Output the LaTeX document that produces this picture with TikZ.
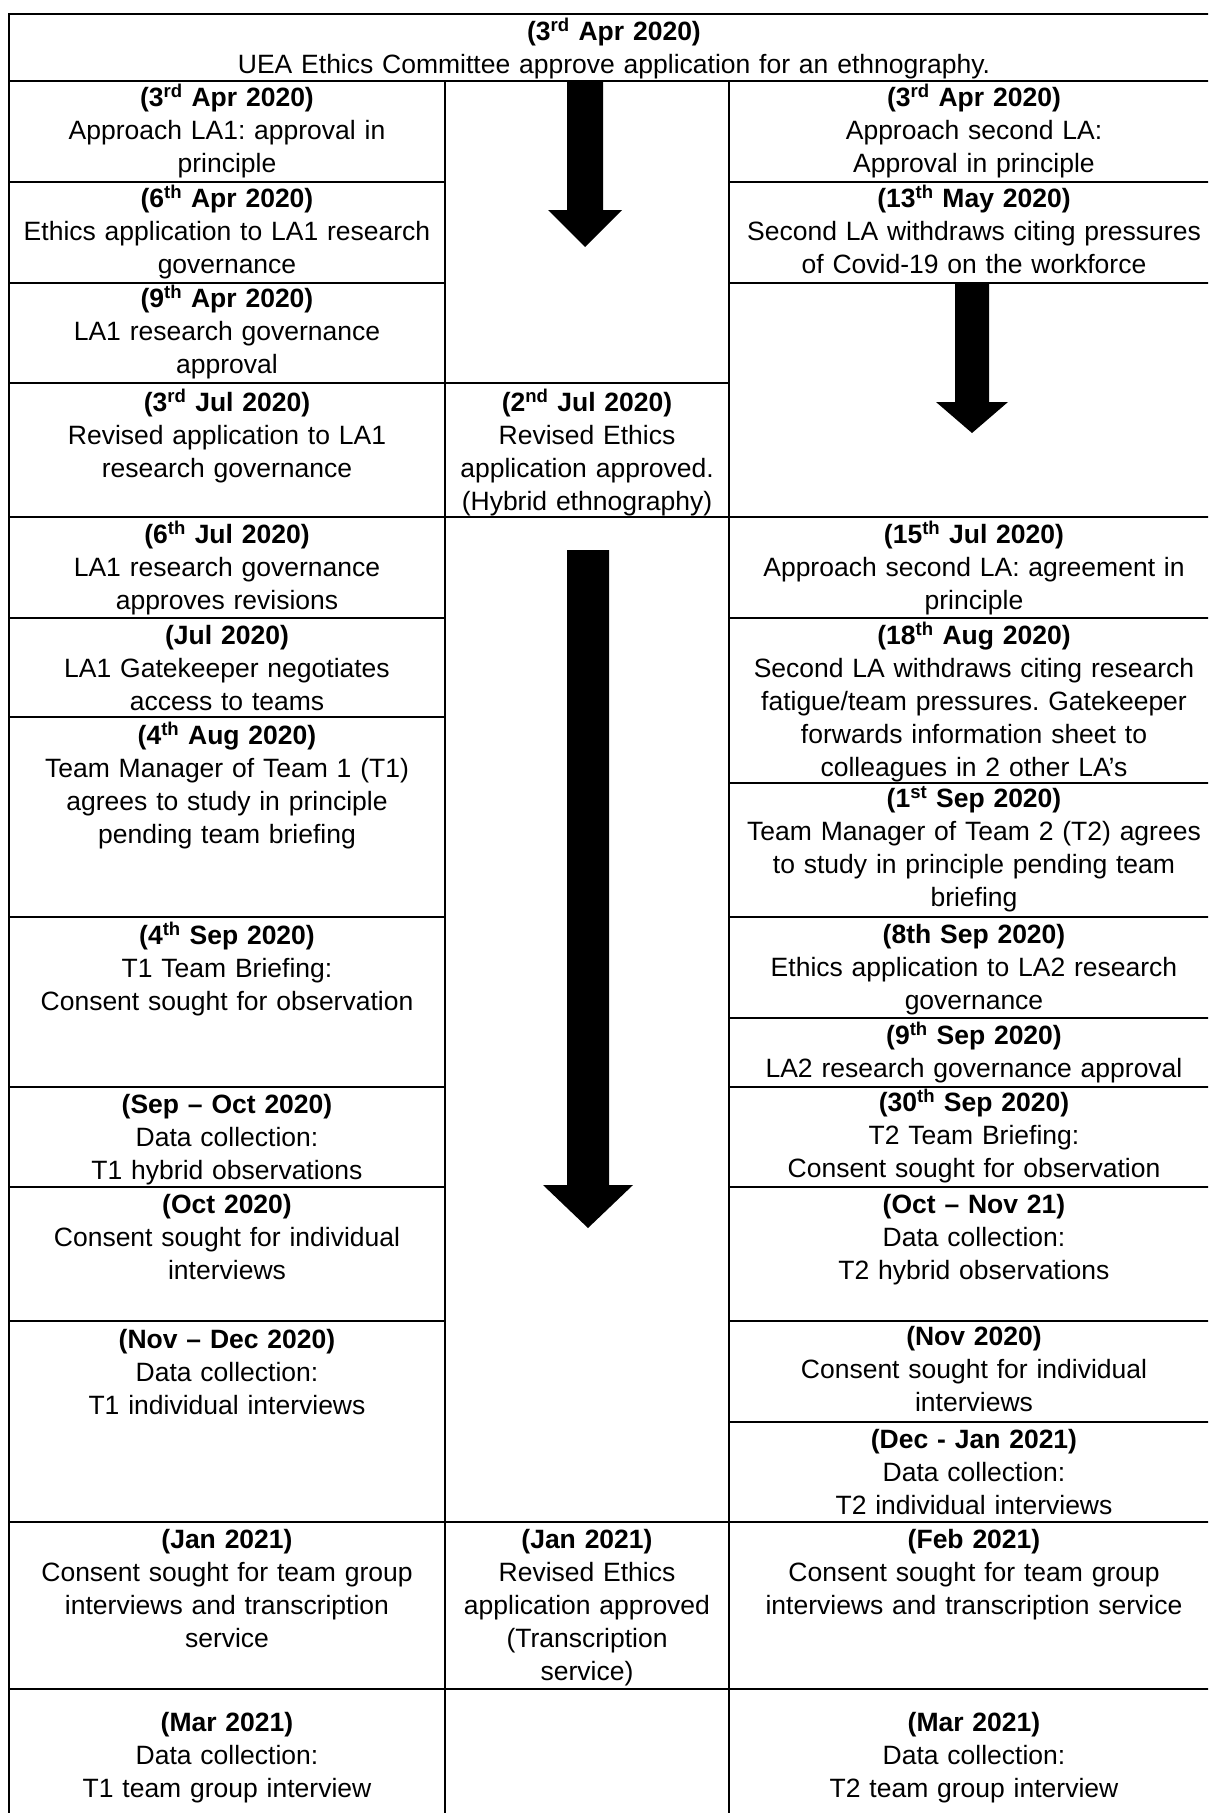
\documentclass[tikz,border=0pt]{standalone}
\usepackage{fontspec}
\setmainfont{Liberation Sans}
\frenchspacing
\tikzset{
  tableline/.style={line width=2.2pt, line cap=rect},
  tcell/.style={anchor=north, align=center, inner sep=0pt,
                font=\fontsize{26.5}{33}\selectfont,
                execute at begin node=\rule{0pt}{26pt}},
  topcell/.style={tcell, text width=1100pt},
  lcell/.style={tcell, text width=420pt},
  mcell/.style={tcell, text width=270pt},
  rcell/.style={tcell, text width=470pt},
  blockarrow/.style={fill=black},
}

\begin{document}
\begin{tikzpicture}[x=1pt, y=-1pt]
  \useasboundingbox (0,0) rectangle (1208,1813);
  \fill[white] (0,0) rectangle (1208,1813);
  \clip (0,0) rectangle (1208,1813);
  % frame and column rules
  \draw[tableline] (9,14) rectangle (1219,1830);
  \draw[tableline] (9,81) -- (1219,81);
  \draw[tableline] (445,81) -- (445,1830) (729,81) -- (729,1830);
  % left column
  \draw[tableline] (9,182) -- (445,182) (9,283) -- (445,283) (9,717) -- (445,717)
    (9,618) -- (445,618) (9,917) -- (445,917) (9,1087) -- (445,1087)
    (9,1187) -- (445,1187) (9,1321) -- (445,1321);
  % left and middle column
  \draw[tableline] (9,383) -- (729,383) (9,517) -- (729,517)
    (9,1522) -- (729,1522) (9,1689) -- (729,1689);
  % right column
  \draw[tableline] (729,182) -- (1219,182) (729,283) -- (1219,283)
    (729,517) -- (1219,517) (729,618) -- (1219,618) (729,783) -- (1219,783)
    (729,917) -- (1219,917) (729,1018) -- (1219,1018) (729,1087) -- (1219,1087)
    (729,1187) -- (1219,1187) (729,1321) -- (1219,1321) (729,1422) -- (1219,1422)
    (729,1522) -- (1219,1522) (729,1689) -- (1219,1689);

  % block arrows
  \fill[blockarrow] (567,81) -- (603,81) -- (603,210) -- (622,210) -- (585,247)
    -- (548,210) -- (567,210) -- cycle;
  \fill[blockarrow] (955,283) -- (989,283) -- (989,402) -- (1008,402) -- (972,433)
    -- (936,402) -- (955,402) -- cycle;
  \fill[blockarrow] (567,550) -- (609,550) -- (609,1185) -- (633,1185) -- (588,1228)
    -- (543,1185) -- (567,1185) -- cycle;

  \node[topcell] (uea) at (614,14) {\textbf{(3\textsuperscript{rd} Apr 2020)}\\
    UEA Ethics Committee approve application for an ethnography.};

  % LA1 / Team 1
  \node[lcell] (l1) at (227,80) {\textbf{(3\textsuperscript{rd} Apr 2020)}\\
    Approach LA1: approval in\\principle};
  \node[lcell] (l2) at (227,181) {\textbf{(6\textsuperscript{th} Apr 2020)}\\
    Ethics application to LA1 research\\governance};
  \node[lcell] (l3) at (227,281) {\textbf{(9\textsuperscript{th} Apr 2020)}\\
    LA1 research governance\\approval};
  \node[lcell] (l4) at (227,385) {\textbf{(3\textsuperscript{rd} Jul 2020)}\\
    Revised application to LA1\\research governance};
  \node[lcell] (l5) at (227,517) {\textbf{(6\textsuperscript{th} Jul 2020)}\\
    LA1 research governance\\approves revisions};
  \node[lcell] (l6) at (227,618) {\textbf{(Jul 2020)}\\
    LA1 Gatekeeper negotiates\\access to teams};
  \node[lcell] (l7) at (227,718) {\textbf{(4\textsuperscript{th} Aug 2020)}\\
    Team Manager of Team 1 (T1)\\agrees to study in principle\\pending team briefing};
  \node[lcell] (l8) at (227,918) {\textbf{(4\textsuperscript{th} Sep 2020)}\\
    T1 Team Briefing:\\Consent sought for observation};
  \node[lcell] (l9) at (227,1087) {\textbf{(Sep – Oct 2020)}\\
    Data collection:\\T1 hybrid observations};
  \node[lcell] (l10) at (227,1187) {\textbf{(Oct 2020)}\\
    Consent sought for individual\\interviews};
  \node[lcell] (l11) at (227,1322) {\textbf{(Nov – Dec 2020)}\\
    Data collection:\\T1 individual interviews};
  \node[lcell] (l12) at (227,1522) {\textbf{(Jan 2021)}\\
    Consent sought for team group\\interviews and transcription\\service};
  \node[lcell] (l13) at (227,1705) {\textbf{(Mar 2021)}\\
    Data collection:\\T1 team group interview};

  % ethics committee
  \node[mcell] (m2) at (587,385) {\textbf{(2\textsuperscript{nd} Jul 2020)}\\
    Revised Ethics\\application approved.\\(Hybrid ethnography)};
  \node[mcell] (m4) at (587,1522) {\textbf{(Jan 2021)}\\
    Revised Ethics\\application approved\\(Transcription\\service)};

  % second LA / Team 2
  \node[rcell] (r1) at (974,80) {\textbf{(3\textsuperscript{rd} Apr 2020)}\\
    Approach second LA:\\Approval in principle};
  \node[rcell] (r2) at (974,181) {\textbf{(13\textsuperscript{th} May 2020)}\\
    Second LA withdraws citing pressures\\of Covid-19 on the workforce};
  \node[rcell] (r4) at (974,517) {\textbf{(15\textsuperscript{th} Jul 2020)}\\
    Approach second LA: agreement in\\principle};
  \node[rcell] (r5) at (974,618) {\textbf{(18\textsuperscript{th} Aug 2020)}\\
    Second LA withdraws citing research\\fatigue/team pressures. Gatekeeper\\
    forwards information sheet to\\colleagues in 2 other LA’s};
  \node[rcell] (r6) at (974,781) {\textbf{(1\textsuperscript{st} Sep 2020)}\\
    Team Manager of Team 2 (T2) agrees\\to study in principle pending team\\briefing};
  \node[rcell] (r7) at (974,917) {\textbf{(8th Sep 2020)}\\
    Ethics application to LA2 research\\governance};
  \node[rcell] (r8) at (974,1018) {\textbf{(9\textsuperscript{th} Sep 2020)}\\
    LA2 research governance approval};
  \node[rcell] (r9) at (974,1085) {\textbf{(30\textsuperscript{th} Sep 2020)}\\
    T2 Team Briefing:\\Consent sought for observation};
  \node[rcell] (r10) at (974,1187) {\textbf{(Oct – Nov 21)}\\
    Data collection:\\T2 hybrid observations};
  \node[rcell] (r11) at (974,1319) {\textbf{(Nov 2020)}\\
    Consent sought for individual\\interviews};
  \node[rcell] (r12) at (974,1422) {\textbf{(Dec - Jan 2021)}\\
    Data collection:\\T2 individual interviews};
  \node[rcell] (r13) at (974,1522) {\textbf{(Feb 2021)}\\
    Consent sought for team group\\interviews and transcription service};
  \node[rcell] (r14) at (974,1705) {\textbf{(Mar 2021)}\\
    Data collection:\\T2 team group interview};
\end{tikzpicture}
\end{document}
